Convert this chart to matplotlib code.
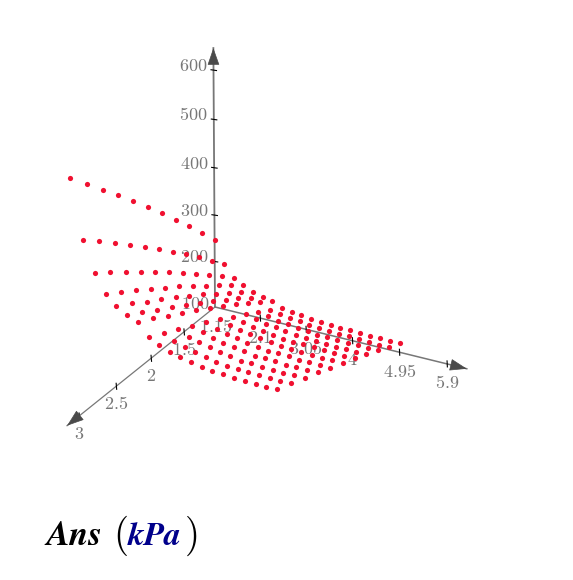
import matplotlib
matplotlib.use("Agg")
import matplotlib.pyplot as plt
import numpy as np

plt.rcParams["mathtext.fontset"] = "cm"

x_vals = [1.0, 1.2, 1.4, 1.6, 1.8, 2.0, 2.2, 2.4, 2.6, 2.8, 3.0]
y_vals = [1.15, 1.35, 1.55, 1.75, 1.95, 2.15, 2.35, 2.55, 2.75, 2.95,
          3.15, 3.35, 3.55, 3.75, 3.95, 4.15, 4.35, 4.55, 4.75, 4.95]
# one row per y value, left to right is x = 1 .. 3
z_vals = [
    [246, 280, 314, 346, 379, 410, 440, 470, 499, 528, 556],
    [200, 227, 254, 280, 306, 331, 355, 379, 402, 425, 447],
    [175, 199, 222, 244, 267, 289, 310, 330, 350, 371, 390],
    [163, 184, 205, 225, 245, 265, 283, 302, 320, 338, 355],
    [154, 174, 194, 213, 233, 251, 269, 286, 303, 321, 337],
    [148, 167, 187, 205, 224, 242, 259, 276, 292, 309, 325],
    [145, 164, 183, 201, 219, 237, 253, 270, 286, 302, 318],
    [134, 151, 169, 185, 202, 218, 234, 249, 264, 279, 293],
    [131, 148, 164, 180, 196, 211, 226, 241, 255, 269, 283],
    [128, 144, 160, 176, 191, 206, 221, 235, 249, 263, 276],
    [126, 142, 158, 173, 188, 203, 217, 231, 244, 258, 271],
    [124, 140, 155, 170, 185, 200, 214, 227, 241, 254, 267],
    [122, 138, 153, 167, 182, 197, 210, 224, 237, 250, 263],
    [121, 136, 151, 166, 181, 195, 208, 221, 234, 247, 260],
    [121, 136, 151, 166, 181, 195, 208, 221, 234, 247, 260],
    [121, 136, 151, 165, 180, 193, 207, 220, 233, 246, 258],
    [120, 135, 150, 164, 179, 192, 206, 219, 232, 245, 257],
    [120, 135, 150, 164, 179, 192, 206, 219, 232, 245, 257],
    [119, 134, 149, 163, 178, 192, 205, 219, 232, 245, 257],
    [120, 135, 150, 164, 179, 193, 206, 220, 233, 246, 258],
]

x_ticks = [1.5, 2, 2.5, 3]
y_ticks = [2.1, 3.05, 4, 4.95, 5.9]
z_ticks = [200, 300, 400, 500, 600]
x_min, y_min, z_min = 1, 1.15, 100
x_max, y_max, z_max = 3.156, 6.29, 644

GREY = "#777777"


def proj(x, y, z):
    # perspective camera, fitted to the axis ticks and the grid corners
    u, v, w = x - x_min, y - y_min, z - z_min
    d = 1 - 0.0556 * u - 0.0067 * v - 9.66e-5 * w
    sx = 215 + (-60.4 * u + 47.3 * v - 0.75 * u * v - 0.00285 * w) / d
    sy = 307 + (48.45 * u + 11.6 * v - 0.451 * w) / d
    return sx, sy


fig = plt.figure(figsize=(5.73, 5.8), dpi=100)
ax = fig.add_axes([0, 0, 1, 1])
ax.set_xlim(0, 573)
ax.set_ylim(580, 0)
ax.axis("off")

origin = proj(x_min, y_min, z_min)
for end, lw in [(proj(x_max, y_min, z_min), 0.9),
                (proj(x_min, y_max, z_min), 1.1),
                (proj(x_min, y_min, z_max), 1.3)]:
    ax.plot([origin[0], end[0]], [origin[1], end[1]], color=GREY, lw=lw)
    back = (end[0] + 0.03 * (origin[0] - end[0]), end[1] + 0.03 * (origin[1] - end[1]))
    ax.annotate("", xy=end, xytext=back,
                arrowprops=dict(arrowstyle="-|>,head_length=1.0,head_width=0.35",
                                color="#4a4a4a", lw=0.5, mutation_scale=11,
                                shrinkA=0, shrinkB=0))

for t in x_ticks:
    sx, sy = proj(t, y_min, z_min)
    ax.plot([sx, sx + 0.5], [sy - 3, sy + 3], color="black", lw=0.8)
    ax.text(sx, sy + 18, f"${t:g}$", color=GREY, fontsize=13, ha="center", va="center")
for t in y_ticks:
    sx, sy = proj(x_min, t, z_min)
    ax.plot([sx, sx + 0.3], [sy - 3, sy + 3], color="black", lw=0.8)
    ax.text(sx, sy + 19.5, f"${t:g}$", color=GREY, fontsize=13, ha="center", va="center")
for t in z_ticks:
    sx, sy = proj(x_min, y_min, t)
    ax.plot([sx - 2.5, sx + 3], [sy - 0.3, sy + 0.5], color="black", lw=0.8)
    ax.text(sx - 6, sy - 4, f"${t:g}$", color=GREY, fontsize=13, ha="right", va="center")
ax.text(origin[0] - 6, origin[1] - 3, "$100$", color=GREY, fontsize=13, ha="right", va="center")
ax.text(origin[0] + 1, origin[1] + 20, "$1.15$", color=GREY, fontsize=13, ha="center", va="center")

gx, gy = np.meshgrid(x_vals, y_vals)
px, py = proj(gx, gy, np.array(z_vals, dtype=float))
ax.scatter(px.ravel(), py.ravel(), s=14, color="#f01030", linewidths=0, zorder=5)

ax.text(46, 545, "Ans", family="STIXGeneral", style="italic", weight="bold",
        fontsize=25, color="black", ha="left", va="baseline")
ax.text(113, 546, r"$($", fontsize=28, color="black", ha="left", va="baseline")
ax.text(128, 545, "kPa", family="STIXGeneral", style="italic", weight="bold",
        fontsize=24, color="#00008b", ha="left", va="baseline")
ax.text(184, 546, r"$)$", fontsize=28, color="black", ha="left", va="baseline")

fig.savefig("out.png", dpi=100)
